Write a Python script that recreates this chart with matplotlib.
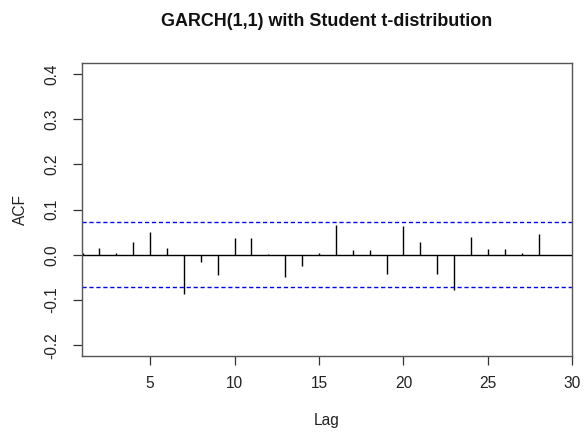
import matplotlib
matplotlib.use("Agg")
import matplotlib.pyplot as plt

plt.rcParams['font.family'] = ['Liberation Sans', 'DejaVu Sans']

title = "GARCH(1,1) with Student t-distribution"
lags = list(range(1, 29))
acf_values = [0.004, 0.015, 0.003, 0.028, 0.051, 0.015, -0.086, -0.016, -0.044, 0.036,
              0.036, 0.001, -0.050, -0.025, 0.005, 0.066, 0.011, 0.011, -0.042, 0.064,
              0.029, -0.042, -0.078, 0.039, 0.013, 0.013, 0.003, 0.047]
conf_limit = 0.0715
x_ticks = [5, 10, 15, 20, 25, 30]
y_ticks = [-0.2, -0.1, 0.0, 0.1, 0.2, 0.3, 0.4]
y_tick_labels = ["-0.2", "-0.1", "0.0", "0.1", "0.2", "0.3", "0.4"]

W, H = 584, 437
fig = plt.figure(figsize=(W / 100, H / 100), dpi=100)
left, right, top, bottom = 81.7, 572.3, 62.7, 356.0
ax = fig.add_axes([left / W, 1 - bottom / H, (right - left) / W, (bottom - top) / H])

ax.vlines(lags, 0, acf_values, color='black', lw=1.0)
ax.axhline(0, color='black', lw=1.0)
ax.axhline(conf_limit, color='#0000ff', lw=1.0, ls=(0, (3, 2)))
ax.axhline(-conf_limit, color='#0000ff', lw=1.0, ls=(0, (3, 2)))

ax.set_xlim(0.95, 30)
ax.set_ylim(-0.224, 0.425)
ax.set_xticks(x_ticks)
ax.set_yticks(y_ticks)
ax.set_yticklabels(y_tick_labels)

for s in ax.spines.values():
    s.set_color('#555555')
    s.set_linewidth(1.0)

ax.tick_params(axis='both', direction='out', length=6.2, width=0.9, color='#333333',
               labelsize=11.2, labelcolor='#222222')
ax.tick_params(axis='x', pad=8.5)
ax.tick_params(axis='y', pad=10)
for lab in ax.get_yticklabels():
    lab.set_rotation(90)
    lab.set_va('center')
    lab.set_ha('right')

ax.set_xlabel("Lag", fontsize=11.2, color='#222222')
ax.set_ylabel("ACF", fontsize=11.2, color='#222222')
ax.xaxis.set_label_coords(0.5, (bottom - 421) / (bottom - top))
ax.xaxis.label.set_va('center')
ax.yaxis.set_label_coords((20 - left) / (right - left), (bottom - 210) / (bottom - top))
ax.yaxis.label.set_va('center')
ax.yaxis.label.set_ha('center')

fig.text(((left + right) / 2) / W, 1 - 21 / H, title, ha='center', va='center',
         fontsize=12.9, fontweight='bold', color='#111111')

fig.savefig("out.png", dpi=100, facecolor='white')
